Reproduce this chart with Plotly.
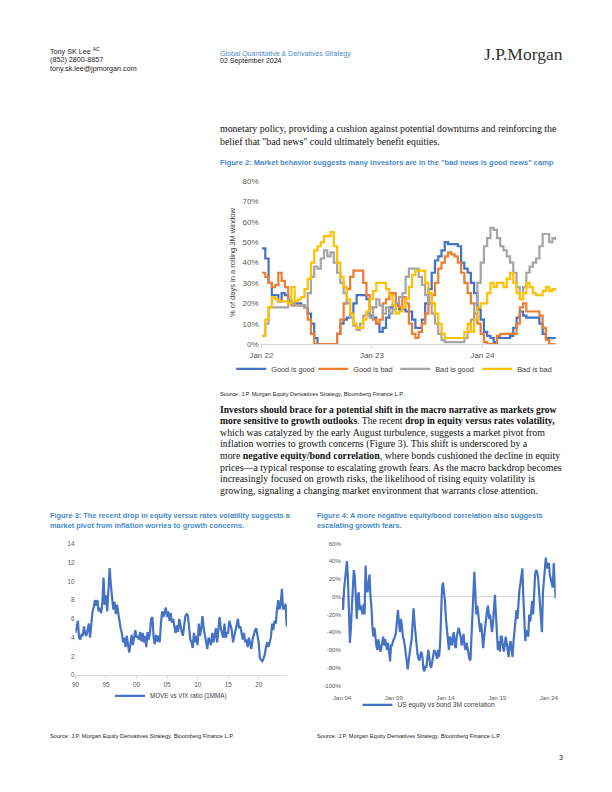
import plotly.graph_objects as go
import pandas as pd

# page is 612x792; browser body keeps its default 8px margin
OFF = 8
FW, FH = 612 - 2 * OFF, 792 - 2 * OFF
def X(p): return (p - OFF) / FW
def Y(p): return 1 - (p - OFF) / FH

# ---------------- Figure 2 data (% of days in rolling 3M window) ----------------
fig2_names = ["Good is good", "Good is bad", "Bad is good", "Bad is bad"]
good_is_good = [47,42,30,24,24,21,25,24,21,20,
                20,20,19,18,15,10,3,0,0,0,
                0,0,0,5,10,12,13,15,20,24,
                24,24,22,14,13,10,6,8,13,18,
                19,19,17,17,16,16,12,8,8,12,
                20,27,35,41,43,46,50,49,49,49,
                48,40,37,35,30,25,17,12,6,4,
                3,1,3,3,3,3,4,8,13,16,
                14,13,13,13,13,10,5,3,3,3,
                3]
good_is_bad = [35,33,30,28,29,35,31,28,20,19,
               19,19,19,18,12,5,0,0,0,0,
               0,0,0,5,12,20,27,33,36,36,
               36,30,24,18,12,10,12,20,22,25,
               25,20,18,23,20,10,5,3,6,10,
               15,20,24,30,37,40,43,45,44,43,
               40,35,30,25,20,15,10,5,1,0,
               0,0,4,5,5,5,5,5,10,18,
               20,16,16,16,16,14,8,2,0,0,
               0]
bad_is_good = [4,10,18,18,18,18,18,18,22,20,
               19,19,19,18,25,33,38,37,42,46,
               43,45,40,35,30,25,20,13,9,7,
               10,14,15,13,18,22,19,15,18,15,
               17,20,23,25,33,37,37,37,33,29,
               24,20,15,10,5,2,1,1,1,1,
               1,1,3,6,12,20,30,40,48,52,
               57,56,52,48,46,43,40,35,28,22,
               28,35,38,40,42,48,54,54,50,52,
               51]
bad_is_bad = [4,12,18,23,22,21,21,21,20,28,
              21,22,23,27,32,40,46,48,50,53,
              53,55,48,40,33,28,22,15,10,8,
              8,12,16,22,26,30,30,30,27,24,
              19,15,16,18,22,28,34,36,36,36,
              30,25,20,15,10,5,3,3,3,3,
              3,3,6,10,6,12,18,20,20,25,
              30,28,30,30,28,32,35,30,25,22,
              25,30,28,25,24,24,26,28,26,27,
              26]
fig2_values = [good_is_good, good_is_bad, bad_is_good, bad_is_bad]
fig2_dates = pd.date_range("2022-01-03", "2024-08-30", periods=len(good_is_good))
fig2_yticks = [0, 10, 20, 30, 40, 50, 60, 70, 80]
fig2_ylabels = ["0%", "10%", "20%", "30%", "40%", "50%", "60%", "70%", "80%"]
fig2_xticks = ["2022-01-01", "2023-01-01", "2024-01-01"]
fig2_xlabels = ["Jan 22", "Jan 23", "Jan 24"]

# ---------------- Figure 3 data (MOVE vs VIX ratio, 1MMA) ----------------
move_vix = [4.5,5.3,5.8,4.0,3.8, 4.3,4.2,5.2,4.4,4.2, 5.0,5.5,4.0,6.0,6.8,
            7.2,8.0,7.4,8.0,6.8, 7.2,6.6,7.6,10.4,7.5, 8.5,6.8,9.0,11.4,9.6,
            8.0,7.0,7.8,6.5,7.5, 6.5,6.0,5.0,4.5,3.5, 4.0,3.0,4.2,3.5,2.4,
            3.3,4.3,3.2,4.0,4.8, 4.0,4.2,3.8,4.6,3.6, 4.5,3.5,4.2,3.0,4.6,
            3.8,4.5,6.0,6.2,4.0, 3.3,4.3,3.6,4.2,3.5, 5.5,6.8,6.2,6.6,7.2,
            6.2,6.8,5.8,6.6,5.6, 6.0,5.2,4.5,5.3,4.6, 6.0,5.0,4.6,4.2,5.5,
            6.3,6.5,6.4,5.2,3.8, 3.5,2.9,4.5,3.5,4.2, 3.2,5.5,4.2,5.0,6.3,
            5.0,4.0,3.5,2.8,4.0, 3.6,3.2,4.5,3.5,4.2, 5.0,3.5,4.8,6.2,5.0,
            4.6,4.0,5.5,4.0,4.5, 4.5,5.8,5.2,4.8,3.5, 4.2,4.5,5.5,6.0,5.0,
            5.2,4.5,3.8,4.5,3.5, 3.8,3.0,4.0,3.5,2.8, 3.8,4.5,4.8,5.0,4.2,
            3.5,1.8,1.6,1.5,1.8, 2.2,3.0,3.5,3.0,3.5, 4.0,5.5,4.8,5.8,5.5,
            7.0,8.0,7.0,7.5,9.2, 7.0,7.2,7.6,5.2]
fig3_dates = pd.date_range("1990-01-01", "2024-08-01", periods=len(move_vix))
fig3_xticks = ["1990-01-01", "1995-01-01", "2000-01-01", "2005-01-01",
               "2010-01-01", "2015-01-01", "2020-01-01"]
fig3_xlabels = ["90", "95", "00", "05", "10", "15", "20"]
fig3_yticks = [0, 2, 4, 6, 8, 10, 12, 14]

# ---------------- Figure 4 data (US equity vs bond 3M correlation, %) ----------------
eq_bond_corr = [0,-15,8,20,35,40,20,-20,-52,-35,
                -5,10,30,22,0,-25,0,5,-15,-10,
                -15,-20,-8,-20,35,10,5,20,25,0,
                -12,-35,-45,-35,-50,-55,-60,-48,-55,-62,
                -58,-50,-45,-55,-48,-55,-60,-52,-60,-73,
                -55,-55,-50,-48,-45,-40,-30,-15,-28,-40,
                -25,-32,-45,-48,-55,-65,-78,-82,-72,-60,
                -55,-48,-30,-13,-30,-45,-60,-65,-70,-72,
                -65,-62,-68,-82,-84,-78,-80,-70,-60,-68,
                -78,-80,-72,-66,-60,-62,-68,-70,-60,-68,
                -55,-20,10,16,8,-5,-25,-40,-50,-60,
                -45,-50,-55,-45,-40,-55,-58,-45,-38,-35,
                -40,-45,-55,-48,-42,-55,-60,-52,-58,-65,
                -70,-72,-50,-25,0,28,5,-20,-10,-22,
                -35,-40,-30,-45,-58,-45,-35,-22,-15,-10,
                -25,-20,-35,-40,-30,-15,2,-20,-45,-60,
                -50,-62,-45,-45,-55,-62,-55,-45,-52,-60,
                -68,-55,-50,-60,-68,-50,-35,-22,-15,-25,
                -5,8,15,25,32,0,-30,-50,-38,-40,
                -45,-20,-28,-15,-5,-20,8,25,30,28,
                22,5,-10,-25,-40,5,22,38,44,32,
                35,38,25,20,15,10,38,20,-2]
fig4_dates = pd.date_range("2004-01-01", "2024-08-30", periods=len(eq_bond_corr))
fig4_xticks = ["2004-01-01", "2009-01-01", "2014-01-01", "2019-01-01", "2024-01-01"]
fig4_xlabels = ["Jan 04", "Jan 09", "Jan 14", "Jan 19", "Jan 24"]
fig4_yticks = [-100, -80, -60, -40, -20, 0, 20, 40, 60]
fig4_ylabels = ["-100%", "-80%", "-60%", "-40%", "-20%", "0%", "20%", "40%", "60%"]

# ---------------- styles ----------------
SANS = "Liberation Sans, Arial, sans-serif"
SERIF = "Liberation Serif, Times New Roman, serif"
BLUE_T = "#4A8BCB"
TICK = "#595959"
AXIS = "#D9D9D9"
fig2_colors = ["#4472C4", "#ED7D31", "#A5A5A5", "#FFC000"]
LINE_BLUE = "#4472C4"

fig = go.Figure()

for name, vals, col in zip(fig2_names, fig2_values, fig2_colors):
    fig.add_trace(go.Scatter(x=fig2_dates, y=vals, name=name, mode="lines",
                             line=dict(color=col, width=2.2, shape="hv"),
                             xaxis="x", yaxis="y", legend="legend"))

fig.add_trace(go.Scatter(x=fig3_dates, y=move_vix, name="MOVE vs VIX ratio (1MMA)",
                         mode="lines", line=dict(color=LINE_BLUE, width=2.2),
                         xaxis="x2", yaxis="y2", legend="legend2"))

fig.add_trace(go.Scatter(x=fig4_dates, y=eq_bond_corr, name="US equity vs bond 3M correlation",
                         mode="lines", line=dict(color=LINE_BLUE, width=2.2),
                         xaxis="x3", yaxis="y3", legend="legend3"))

tickfont2 = dict(family=SANS, size=8, color=TICK)
tickfont3 = dict(family=SANS, size=6.3, color=TICK)

fig.update_layout(
    width=FW, height=FH, autosize=False,
    margin=dict(l=0, r=0, t=0, b=0, pad=0),
    paper_bgcolor="white", plot_bgcolor="rgba(0,0,0,0)",
    font=dict(family=SANS, color="#222"),
    # Figure 2 axes
    xaxis=dict(domain=[X(255), X(558)], anchor="y", type="date",
               range=["2021-12-26", "2024-08-31"],
               tickvals=fig2_xticks, ticktext=fig2_xlabels,
               showgrid=False, zeroline=False, showline=True, linecolor=AXIS, linewidth=1,
               ticks="outside", ticklen=3, tickcolor=AXIS, tickfont=tickfont2),
    yaxis=dict(domain=[Y(344), Y(179)], anchor="x", range=[0, 80],
               tickvals=fig2_yticks, ticktext=fig2_ylabels, showgrid=False, zeroline=False,
               showline=False, tickfont=tickfont2, ticks="",
               title=dict(text="% of days in a rolling 3M window",
                          font=dict(family=SANS, size=7.5, color="#404040"), standoff=5)),
    # Figure 3 axes
    xaxis2=dict(domain=[X(66.7), X(283)], anchor="y2", type="date",
                range=["1990-01-01", "2024-08-15"],
                tickvals=fig3_xticks, ticktext=fig3_xlabels,
                showgrid=False, zeroline=False, showline=True, linecolor=AXIS,
                ticks="outside", ticklen=3, tickcolor=AXIS, tickfont=tickfont3),
    yaxis2=dict(domain=[Y(679), Y(546)], anchor="x2", range=[0, 14],
                tickvals=fig3_yticks, showgrid=False, zeroline=False, showline=False,
                tickfont=tickfont3),
    # Figure 4 axes
    xaxis3=dict(domain=[X(339.3), X(557.7)], anchor="y3", type="date",
                range=["2004-01-01", "2024-08-31"],
                tickvals=fig4_xticks, ticktext=fig4_xlabels,
                showgrid=False, zeroline=False, showline=False,
                ticks="outside", ticklen=6, tickcolor="rgba(0,0,0,0)",
                tickfont=dict(family=SANS, size=6, color=TICK)),
    yaxis3=dict(domain=[Y(689.3), Y(545.7)], anchor="x3", range=[-100, 60],
                tickvals=fig4_yticks, ticktext=fig4_ylabels,
                showgrid=False, zeroline=True, zerolinecolor=AXIS, zerolinewidth=1,
                showline=False, tickfont=dict(family=SANS, size=6.2, color=TICK)),
    legend=dict(orientation="h", x=X(226), y=Y(369), xanchor="left", yanchor="middle",
                font=dict(family=SANS, size=7.3, color="#404040"),
                entrywidth=37, entrywidthmode="pixels", itemwidth=30,
                bgcolor="rgba(0,0,0,0)", borderwidth=0),
    legend2=dict(orientation="h", x=X(102), y=Y(700), xanchor="left", yanchor="middle",
                 font=dict(family=SANS, size=6.3, color="#404040"), itemwidth=30,
                 bgcolor="rgba(0,0,0,0)", borderwidth=0),
    legend3=dict(orientation="h", x=X(355), y=Y(709), xanchor="left", yanchor="middle",
                 font=dict(family=SANS, size=6.6, color="#404040"), itemwidth=30,
                 bgcolor="rgba(0,0,0,0)", borderwidth=0),
)

ann = []
def txt(x, y, s, size=7, color="#222", family=SANS, xanchor="left"):
    ann.append(dict(x=X(x), y=Y(y), xref="paper", yref="paper", text=s, showarrow=False,
                    xanchor=xanchor, yanchor="middle", align="left", borderpad=0,
                    font=dict(size=size, color=color, family=family)))

# header
txt(40, 47, "Tony SK Lee <sup>AC</sup>", 7.2)
txt(40, 56, "(852) 2800-8857", 7.2)
txt(40, 65, "tony.sk.lee@jpmorgan.com", 7.2)
txt(213, 50, "Global Quantitative &amp; Derivatives Strategy", 7, BLUE_T)
txt(213, 58, "02 September 2024", 7)
txt(566, 50, "J.P.Morgan", 17.5, "#333", SERIF, "right")

# paragraph 1
txt(213, 126, "monetary policy, providing a cushion against potential downturns and reinforcing the", 9.9, "#111", SERIF)
txt(213, 139, "belief that \"bad news\" could ultimately benefit equities.", 9.9, "#111", SERIF)

# figure 2 title & source
txt(213, 160, "<b>Figure 2: Market behavior suggests many investors are in the \"bad news is good news\" camp</b>", 7.5, BLUE_T)
txt(213, 394, "Source: J.P. Morgan Equity Derivatives Strategy, Bloomberg Finance L.P.", 5.7, "#222")

# paragraph 2
para2 = [
    "<b>Investors should brace for a potential shift in the macro narrative as markets grow</b>",
    "<b>more sensitive to growth outlooks</b>. The recent <b>drop in equity versus rates volatility,</b>",
    "which was catalyzed by the early August turbulence, suggests a market pivot from",
    "inflation worries to growth concerns (Figure 3). This shift is underscored by a",
    "more <b>negative equity/bond correlation</b>, where bonds cushioned the decline in equity",
    "prices\u2014a typical response to escalating growth fears. As the macro backdrop becomes",
    "increasingly focused on growth risks, the likelihood of rising equity volatility is",
    "growing, signaling a changing market environment that warrants close attention.",
]
para2_sizes = [9.55, 9.6, 9.9, 9.9, 9.9, 9.9, 9.9, 9.9]
for i, (line, sz) in enumerate(zip(para2, para2_sizes)):
    txt(213, 410 + i * 11.7, line, sz, "#111", SERIF)

# figure 3 & 4 titles
txt(40, 517, "<b>Figure 3: The recent drop in equity versus rates volatility suggests a</b>", 7.4, BLUE_T)
txt(40, 528, "<b>market pivot from inflation worries to growth concerns.</b>", 7.4, BLUE_T)
txt(313, 517, "<b>Figure 4: A more negative equity/bond correlation also suggests</b>", 7.4, BLUE_T)
txt(313, 528, "<b>escalating growth fears.</b>", 7.4, BLUE_T)

# sources
txt(40, 741, "Source: J.P. Morgan Equity Derivatives Strategy, Bloomberg Finance L.P.", 5.7, "#222")
txt(313, 741, "Source: J.P. Morgan Equity Derivatives Strategy, Bloomberg Finance L.P.", 5.7, "#222")

# page number
txt(566, 762, "3", 7, "#222", SANS, "right")

fig.update_layout(annotations=ann)

fig.write_html("out.html", config={"displayModeBar": False})
